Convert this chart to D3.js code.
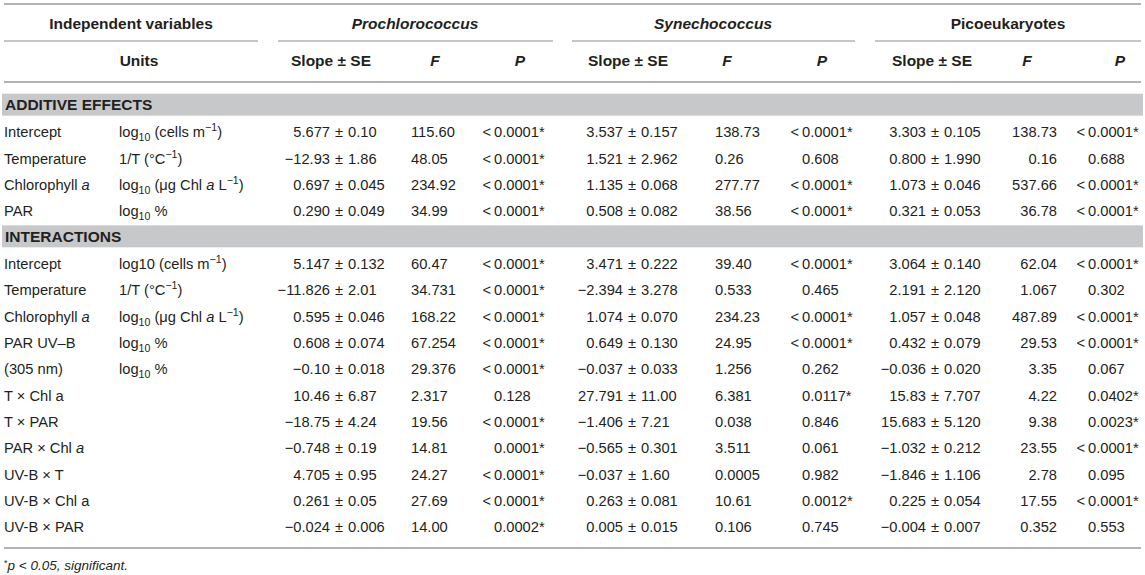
<!DOCTYPE html>
<html>
<head>
<meta charset="utf-8">
<script src="https://cdn.jsdelivr.net/npm/d3@7"></script>
<style>
  body { margin: 0; background: white; }
  svg text { font-family: "Liberation Sans", Arial, Helvetica, sans-serif; fill: #231f20; }
</style>
</head>
<body>
<div id="container"></div>
<script>
/* CONSTANTS AND GLOBALS */
const width = 1145,
  height = 575;

/* DATA */
// ~x~ italic, _{..} subscript, ^{..} superscript
const groups = ["~Prochlorococcus~", "~Synechococcus~", "Picoeukaryotes"];
const subHeads = ["Slope ± SE", "~F~", "~P~"];
const sections = ["ADDITIVE EFFECTS", "INTERACTIONS"];
const sectionStart = [0, 4];

const variables = [
  "Intercept", "Temperature", "Chlorophyll ~a~", "PAR",
  "Intercept", "Temperature", "Chlorophyll ~a~", "PAR UV–B", "(305 nm)",
  "T × Chl a", "T × PAR", "PAR × Chl ~a~", "UV-B × T", "UV-B × Chl a", "UV-B × PAR"
];
const units = [
  "log_{10} (cells m^{−1})", "1/T (°C^{−1})", "log_{10} (μg Chl ~a~ L^{−1})", "log_{10} %",
  "log10 (cells m^{−1})", "1/T (°C^{−1})", "log_{10} (μg Chl ~a~ L^{−1})", "log_{10} %", "log_{10} %",
  "", "", "", "", "", ""
];

const proSlope = ["5.677 ± 0.10", "−12.93 ± 1.86", "0.697 ± 0.045", "0.290 ± 0.049",
  "5.147 ± 0.132", "−11.826 ± 2.01", "0.595 ± 0.046", "0.608 ± 0.074", "−0.10 ± 0.018",
  "10.46 ± 6.87", "−18.75 ± 4.24", "−0.748 ± 0.19", "4.705 ± 0.95", "0.261 ± 0.05", "−0.024 ± 0.006"];
const proF = ["115.60", "48.05", "234.92", "34.99", "60.47", "34.731", "168.22", "67.254", "29.376",
  "2.317", "19.56", "14.81", "24.27", "27.69", "14.00"];
const proP = ["<0.0001*", "<0.0001*", "<0.0001*", "<0.0001*", "<0.0001*", "<0.0001*", "<0.0001*",
  "<0.0001*", "<0.0001*", "0.128", "<0.0001*", "0.0001*", "<0.0001*", "<0.0001*", "0.0002*"];

const synSlope = ["3.537 ± 0.157", "1.521 ± 2.962", "1.135 ± 0.068", "0.508 ± 0.082",
  "3.471 ± 0.222", "−2.394 ± 3.278", "1.074 ± 0.070", "0.649 ± 0.130", "−0.037 ± 0.033",
  "27.791 ± 11.00", "−1.406 ± 7.21", "−0.565 ± 0.301", "−0.037 ± 1.60", "0.263 ± 0.081", "0.005 ± 0.015"];
const synF = ["138.73", "0.26", "277.77", "38.56", "39.40", "0.533", "234.23", "24.95", "1.256",
  "6.381", "0.038", "3.511", "0.0005", "10.61", "0.106"];
const synP = ["<0.0001*", "0.608", "<0.0001*", "<0.0001*", "<0.0001*", "0.465", "<0.0001*",
  "<0.0001*", "0.262", "0.0117*", "0.846", "0.061", "0.982", "0.0012*", "0.745"];

const picoSlope = ["3.303 ± 0.105", "0.800 ± 1.990", "1.073 ± 0.046", "0.321 ± 0.053",
  "3.064 ± 0.140", "2.191 ± 2.120", "1.057 ± 0.048", "0.432 ± 0.079", "−0.036 ± 0.020",
  "15.83 ± 7.707", "15.683 ± 5.120", "−1.032 ± 0.212", "−1.846 ± 1.106", "0.225 ± 0.054", "−0.004 ± 0.007"];
const picoF = ["138.73", "0.16", "537.66", "36.78", "62.04", "1.067", "487.89", "29.53", "3.35",
  "4.22", "9.38", "23.55", "2.78", "17.55", "0.352"];
const picoP = ["<0.0001*", "0.688", "<0.0001*", "<0.0001*", "<0.0001*", "0.302", "<0.0001*",
  "<0.0001*", "0.067", "0.0402*", "0.0023*", "<0.0001*", "0.095", "<0.0001*", "0.553"];

const footnote = "p < 0.05, significant.";

/* LAYOUT */
const bodySize = 14.7, headSize = 15.5;
const base = 6.2; // baseline offset from row centre

// column anchors per group: slope "±" centre, F anchor, P number start, header centres
const colX = [
  { pm: 339, f: 411, fAnchor: "start", p: 494, group: 415, line: [278, 553], hs: 331, hf: 435, hp: 520 },
  { pm: 632, f: 715, fAnchor: "start", p: 802, group: 713, line: [572, 855], hs: 628, hf: 727, hp: 822 },
  { pm: 935, f: 1057, fAnchor: "end", p: 1088, group: 1008, line: [875, 1141], hs: 932, hf: 1027, hp: 1120 }
];
const seriesSlope = [proSlope, synSlope, picoSlope];
const seriesF = [proF, synF, picoF];
const seriesP = [proP, synP, picoP];

// slot index: rows plus section bands
const slots = [];
sections.forEach((s, k) => {
  const start = sectionStart[k], end = k + 1 < sections.length ? sectionStart[k + 1] : variables.length;
  slots.push({ type: "section", label: s });
  for (let i = start; i < end; i++) slots.push({ type: "row", i });
});

/* SCALES */
const yScale = d3.scaleLinear()
  .domain([1, slots.length - 1])
  .range([131, 526]);

const svg = d3.select("#container")
  .append("svg")
  .attr("width", width)
  .attr("height", height)
  .style("background-color", "white");

// rich text helper (text element carries the baseline in y)
function rich(textSel, str, size) {
  const parts = str.split(/(_\{[^}]*\}|\^\{[^}]*\}|~[^~]*~)/).filter(p => p !== "");
  let shift = 0;
  parts.forEach(p => {
    let t = p, style = null, target = 0, fs = size;
    if (p.startsWith("_{")) { t = p.slice(2, -1); target = 4; fs = size * 0.72; }
    else if (p.startsWith("^{")) { t = p.slice(2, -1); target = -6; fs = size * 0.72; }
    else if (p.startsWith("~")) { t = p.slice(1, -1); style = "italic"; }
    const ts = textSel.append("tspan")
      .style("font-size", fs + "px")
      .style("font-style", style)
      .text(t);
    if (target - shift !== 0) ts.attr("dy", target - shift);
    shift = target;
  });
}

/* LINES */
const lineColor = "#b3b3b3";
const hLines = [
  { x1: 4, x2: 1141, y: 4, w: 2 },
  { x1: 4, x2: 258, y: 41, w: 1.6 },
  ...colX.map(c => ({ x1: c.line[0], x2: c.line[1], y: 41, w: 1.6 })),
  { x1: 4, x2: 1141, y: 82, w: 2 },
  { x1: 4, x2: 1141, y: 548, w: 2 }
];
svg.selectAll(".rule")
  .data(hLines)
  .join("line")
  .attr("class", "rule")
  .attr("x1", d => d.x1).attr("x2", d => d.x2)
  .attr("y1", d => d.y).attr("y2", d => d.y)
  .attr("stroke", lineColor)
  .attr("stroke-width", d => d.w);

/* HEADERS */
const head1 = svg.append("g").attr("font-weight", "bold").style("font-size", headSize + "px");
head1.append("text").attr("x", 131).attr("y", 23 + 5.6)
  .attr("text-anchor", "middle").text("Independent variables");
head1.append("text").attr("x", 139).attr("y", 60 + 5.6)
  .attr("text-anchor", "middle").text("Units");

groups.forEach((g, k) => {
  const c = colX[k];
  const t = head1.append("text").attr("x", c.group).attr("y", 23 + 5.6)
    .attr("text-anchor", "middle");
  rich(t, g, headSize);
  [c.hs, c.hf, c.hp].forEach((x, j) => {
    const s = head1.append("text").attr("x", x).attr("y", 60 + 5.6)
      .attr("text-anchor", "middle");
    rich(s, subHeads[j], headSize);
  });
});

/* SECTION BANDS */
const bands = svg.selectAll(".band")
  .data(slots.map((s, k) => ({ ...s, k })).filter(s => s.type === "section"))
  .join("g")
  .attr("class", "band")
  .attr("transform", d => `translate(0, ${yScale(d.k)})`);
bands.append("rect")
  .attr("x", 2).attr("y", -11)
  .attr("width", 1141).attr("height", 22)
  .attr("fill", "#c7c8ca");
bands.append("text")
  .attr("x", 5).attr("y", 5.6)
  .style("font-size", headSize + "px")
  .attr("font-weight", "bold")
  .text(d => d.label);

/* ROWS */
const rows = svg.selectAll(".row")
  .data(slots.map((s, k) => ({ ...s, k })).filter(s => s.type === "row"))
  .join("g")
  .attr("class", "row")
  .attr("transform", d => `translate(0, ${yScale(d.k)})`)
  .style("font-size", bodySize + "px");

rows.each(function (d) {
  const g = d3.select(this);
  const i = d.i;
  rich(g.append("text").attr("x", 4).attr("y", base), variables[i], bodySize);
  if (units[i]) rich(g.append("text").attr("x", 119).attr("y", base), units[i], bodySize);

  colX.forEach((c, k) => {
    const [a, b] = seriesSlope[k][i].split(" ± ");
    g.append("text").attr("x", c.pm - 9).attr("y", base).attr("text-anchor", "end").text(a);
    g.append("text").attr("x", c.pm).attr("y", base).attr("text-anchor", "middle").text("±");
    g.append("text").attr("x", c.pm + 9).attr("y", base).attr("text-anchor", "start").text(b);

    g.append("text").attr("x", c.f).attr("y", base).attr("text-anchor", c.fAnchor)
      .text(seriesF[k][i]);

    const p = seriesP[k][i];
    const lt = p.startsWith("<");
    if (lt) g.append("text").attr("x", c.p - 3).attr("y", base).attr("text-anchor", "end").text("<");
    g.append("text").attr("x", c.p).attr("y", base).attr("text-anchor", "start")
      .text(lt ? p.slice(1) : p);
  });
});

/* FOOTNOTE */
const fn = svg.append("text").attr("x", 4).attr("y", 565 + 5)
  .style("font-size", "13.5px");
fn.append("tspan").attr("dy", -4).style("font-size", "9px").text("*");
fn.append("tspan").attr("dy", 4).style("font-style", "italic").text(footnote);
</script>
</body>
</html>
